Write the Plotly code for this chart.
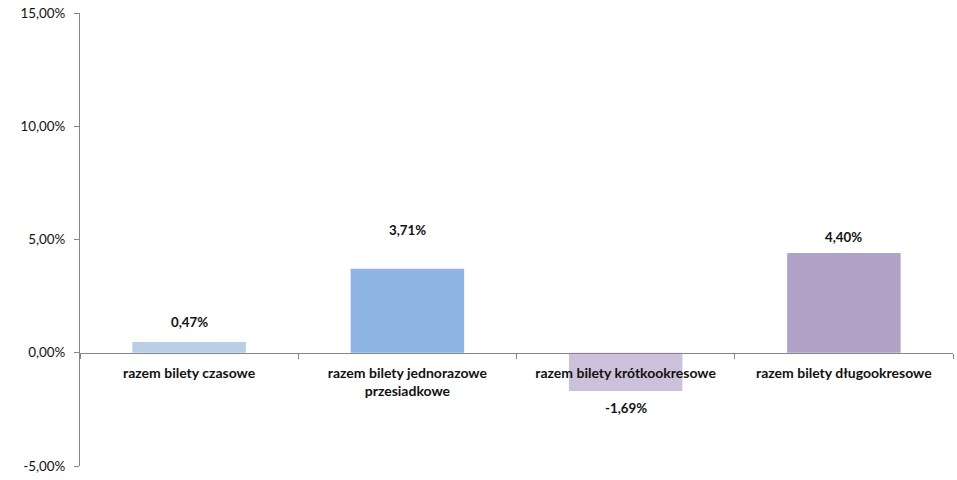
import plotly.graph_objects as go

categories = ["razem bilety czasowe", "razem bilety jednorazowe<br>przesiadkowe",
              "razem bilety krótkookresowe", "razem bilety długookresowe"]
values = [0.0047, 0.0371, -0.0169, 0.0440]
value_labels = ["0,47%", "3,71%", "-1,69%", "4,40%"]
colors = ["#B9CDE5", "#8EB4E3", "#CCC1DA", "#B3A2C7"]
label_shift = [20, 39, -17, 16]

ytick_vals = [-0.05, 0.0, 0.05, 0.10, 0.15]
ytick_text = ["-5,00%", "0,00%", "5,00%", "10,00%", "15,00%"]

font_family = "Lato, Open Sans, sans-serif"
axis_color = "#868686"
text_color = "#111111"

fig = go.Figure(go.Bar(x=categories, y=values, marker=dict(color=colors, line=dict(width=0)),
                       hoverinfo="skip"))

for c, v, t, s in zip(categories, values, value_labels, label_shift):
    fig.add_annotation(x=c, y=v, text="<b>%s</b>" % t, showarrow=False, yshift=s,
                       font=dict(family=font_family, size=13.3, color=text_color))

fig.update_layout(
    width=957, height=480,
    margin=dict(l=80, r=4, t=13, b=14, autoexpand=False),
    plot_bgcolor="white", paper_bgcolor="white",
    bargap=0.48, showlegend=False,
    font=dict(family=font_family, size=13, color=text_color),
    yaxis=dict(range=[-0.05, 0.15], tickvals=ytick_vals, ticktext=ytick_text,
               showgrid=False, zeroline=False, showline=True, linecolor=axis_color,
               linewidth=1, ticks="outside", ticklen=5, tickcolor=axis_color,
               ticklabelstandoff=6, ticklabeloverflow="allow", automargin=False,
               tickfont=dict(size=13.4, color=text_color)),
    xaxis=dict(anchor="free", position=0.25, showline=True, linecolor=axis_color,
               linewidth=1, ticks="outside", ticklen=5, tickcolor=axis_color,
               tickson="boundaries", showgrid=False, ticklabelstandoff=7,
               ticklabeloverflow="allow", automargin=False,
               tickfont=dict(size=14, color=text_color, weight="bold")),
)

fig.write_html("out.html", config={"displayModeBar": False},
               post_script="document.body.style.margin='0';document.body.style.overflow='hidden';")
